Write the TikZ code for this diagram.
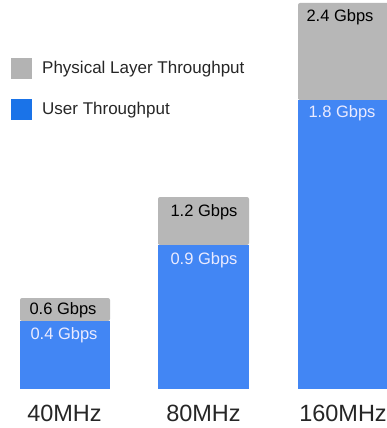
\documentclass[tikz,border=0pt]{standalone}
\usepackage{fontspec}
\setmainfont{Liberation Sans}
\definecolor{phygray}{HTML}{B7B7B7}
\definecolor{userblue}{HTML}{4286F4}
\definecolor{legblue}{HTML}{1A73E8}
\definecolor{leggray}{HTML}{B3B3B3}
\begin{document}
\begin{tikzpicture}[x=1pt,y=-1pt,
  graybar/.style={fill=phygray},
  bluebar/.style={fill=userblue},
  vallab/.style={font=\fontsize{16.5}{19}\selectfont, anchor=center, inner sep=0pt},
  freqlab/.style={font=\fontsize{23.5}{27}\selectfont, text=black!85, anchor=center, inner sep=0pt},
  leglab/.style={font=\fontsize{17}{20}\selectfont, text=black!85, anchor=west, inner sep=0pt}]
\useasboundingbox (0,0) rectangle (387,428);
% legend
\fill[leggray] (11,58) rectangle (32,79);
\node[leglab] (lphy) at (42,69) {Physical Layer Throughput};
\fill[legblue] (11,99) rectangle (32,120);
\node[leglab] (luser) at (42,110) {User Throughput};
% bar 1
\fill[graybar, rounded corners=2pt] (20,321) |- (110,298) |- cycle;
\fill[bluebar] (20,321) rectangle (110,389);
\node[vallab, text=black] (b1p) at (63,310) {0.6 Gbps};
\node[vallab, text=white!92!blue] (b1u) at (64,335) {0.4 Gbps};
\node[freqlab] (f1) at (64.5,413) {40MHz};
% bar 2
\fill[graybar, rounded corners=2pt] (158,245) |- (249,197) |- cycle;
\fill[bluebar] (158,245) rectangle (249,389);
\node[vallab, text=black] (b2p) at (204,212) {1.2 Gbps};
\node[vallab, text=white!92!blue] (b2u) at (204,260) {0.9 Gbps};
\node[freqlab] (f2) at (203.5,413) {80MHz};
% bar 3
\fill[graybar, rounded corners=2pt] (298,100) |- (392,3) |- cycle;
\fill[bluebar] (298,100) rectangle (387,389);
\node[vallab, text=black] (b3p) at (340,17) {2.4 Gbps};
\node[vallab, text=white!92!blue] (b3u) at (342,113) {1.8 Gbps};
\node[freqlab] (f3) at (343,413) {160MHz};
\end{tikzpicture}
\end{document}
